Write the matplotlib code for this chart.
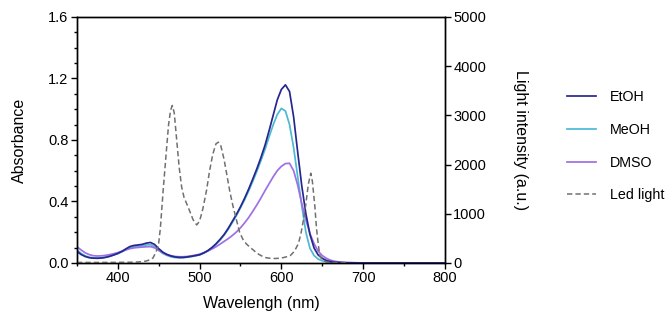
import matplotlib
matplotlib.use("Agg")
import matplotlib.pyplot as plt
from matplotlib.ticker import MultipleLocator

plt.rcParams['font.family'] = ['Liberation Sans', 'DejaVu Sans']

# Absorbance spectra
wl = [350, 355, 360, 365, 370, 375, 380, 385, 390, 395,
      400, 405, 410, 415, 420, 425, 430, 435, 440, 445,
      450, 455, 460, 465, 470, 475, 480, 485, 490, 495,
      500, 505, 510, 515, 520, 525, 530, 535, 540, 545,
      550, 555, 560, 565, 570, 575, 580, 585, 590, 595,
      600, 605, 610, 615, 620, 625, 630, 635, 640, 645,
      650, 655, 660, 665, 670, 675, 680, 700, 750, 800]

etoh = [0.075, 0.055, 0.042, 0.034, 0.031, 0.030, 0.032, 0.036, 0.043, 0.052,
        0.062, 0.075, 0.092, 0.107, 0.114, 0.117, 0.121, 0.129, 0.133, 0.120,
        0.093, 0.070, 0.055, 0.045, 0.039, 0.036, 0.036, 0.039, 0.043, 0.048,
        0.053, 0.065, 0.080, 0.100, 0.124, 0.153, 0.185, 0.225, 0.270, 0.315,
        0.365, 0.420, 0.480, 0.545, 0.612, 0.685, 0.765, 0.860, 0.960, 1.060,
        1.128, 1.158, 1.115, 0.950, 0.720, 0.500, 0.320, 0.185, 0.097, 0.052,
        0.030, 0.016, 0.009, 0.005, 0.003, 0.002, 0.001, 0.0, 0.0, 0.0]

meoh = [0.085, 0.062, 0.046, 0.037, 0.033, 0.032, 0.033, 0.037, 0.043, 0.051,
        0.060, 0.072, 0.086, 0.099, 0.106, 0.109, 0.112, 0.117, 0.119, 0.106,
        0.082, 0.062, 0.049, 0.040, 0.035, 0.033, 0.034, 0.037, 0.041, 0.046,
        0.052, 0.063, 0.078, 0.097, 0.120, 0.148, 0.180, 0.218, 0.262, 0.308,
        0.358, 0.410, 0.468, 0.530, 0.595, 0.665, 0.738, 0.820, 0.898, 0.965,
        1.005, 0.988, 0.900, 0.750, 0.560, 0.370, 0.200, 0.095, 0.048, 0.025,
        0.014, 0.008, 0.005, 0.003, 0.002, 0.001, 0.001, 0.0, 0.0, 0.0]

dmso = [0.105, 0.085, 0.066, 0.054, 0.047, 0.045, 0.046, 0.049, 0.054, 0.060,
        0.067, 0.076, 0.085, 0.093, 0.098, 0.101, 0.103, 0.105, 0.106, 0.098,
        0.082, 0.066, 0.055, 0.047, 0.042, 0.040, 0.040, 0.042, 0.046, 0.051,
        0.057, 0.066, 0.077, 0.090, 0.105, 0.122, 0.140, 0.158, 0.178, 0.201,
        0.228, 0.260, 0.295, 0.335, 0.377, 0.422, 0.470, 0.515, 0.560, 0.600,
        0.628, 0.646, 0.648, 0.600, 0.505, 0.385, 0.280, 0.190, 0.125, 0.077,
        0.048, 0.030, 0.018, 0.011, 0.007, 0.004, 0.002, 0.0, 0.0, 0.0]

# LED emission spectrum (right axis)
led_wl = [350, 380, 400, 420, 430, 435, 440, 443, 446, 449.5,
          452, 455.5, 459, 462, 464.5, 466.6, 469, 472, 475, 478,
          481, 484, 488, 492, 496.5, 500, 504, 508.6, 512, 516,
          520, 523, 526, 530, 533, 537, 541, 545, 549, 553,
          557, 561.5, 565.6, 570, 575, 580, 586, 592, 598, 603,
          607, 611, 615, 618, 621, 624, 627, 630, 633, 636,
          638, 641, 643, 645, 647, 650, 655, 660, 680]
led = [10, 10, 12, 15, 25, 40, 70, 100, 200, 331,
       700, 1484, 2200, 2800, 3100, 3200, 3050, 2500, 1950, 1550,
       1330, 1213, 1050, 880, 772, 850, 1100, 1484, 1850, 2200,
       2420, 2455, 2380, 2100, 1823, 1450, 1144, 880, 620, 480,
       390, 320, 264, 200, 150, 110, 95, 90, 95, 110,
       128, 150, 220, 300, 400, 600, 874, 1200, 1600, 1823,
       1650, 1144, 700, 400, 150, 60, 20, 10, 5]

c_etoh = '#27268f'
c_meoh = '#4bb9d2'
c_dmso = '#9d70e3'
c_led = '#707070'

fig = plt.figure(figsize=(6.69, 3.25), dpi=100)
ax = fig.add_axes([0.115, 0.191, 0.550, 0.757])
ax2 = ax.twinx()

l1, = ax.plot(wl, etoh, color=c_etoh, lw=1.25, label='EtOH', zorder=3)
l2, = ax.plot(wl, meoh, color=c_meoh, lw=1.25, label='MeOH', zorder=2)
l3, = ax.plot(wl, dmso, color=c_dmso, lw=1.25, label='DMSO', zorder=2)
l4, = ax2.plot(led_wl, led, color=c_led, lw=1.1, ls=(0, (3.5, 2)), label='Led light')

ax.set_xlim(350, 800)
ax.set_ylim(0, 1.6)
ax2.set_ylim(0, 5000)

ax.xaxis.set_minor_locator(MultipleLocator(50))
ax.yaxis.set_minor_locator(MultipleLocator(0.1))
ax.set_yticks([0, 0.4, 0.8, 1.2, 1.6])
ax.set_yticklabels(['0.0', '0.4', '0.8', '1.2', '1.6'])
ax.set_xticks([400, 500, 600, 700, 800])
ax2.yaxis.set_major_locator(MultipleLocator(1000))

for a in (ax, ax2):
    for s in a.spines.values():
        s.set_linewidth(1.0)
    a.tick_params(which='major', length=4, width=1.0, labelsize=10.5, pad=2)
    a.tick_params(which='minor', length=2.5, width=1.0)

ax.set_xlabel('Wavelengh (nm)', fontsize=11.5, labelpad=8)
ax.set_ylabel('Absorbance', fontsize=11.5, labelpad=15)
ax2.set_ylabel('Light intensity (a.u.)', fontsize=11.5, rotation=270, labelpad=30)

fig.legend(handles=[l1, l2, l3, l4], loc='upper left',
           bbox_to_anchor=(0.848, 0.722), frameon=False, fontsize=10.3,
           handlelength=2.0, handletextpad=1.0, labelspacing=1.3,
           borderpad=0, borderaxespad=0)

fig.savefig('out.png', dpi=100)
